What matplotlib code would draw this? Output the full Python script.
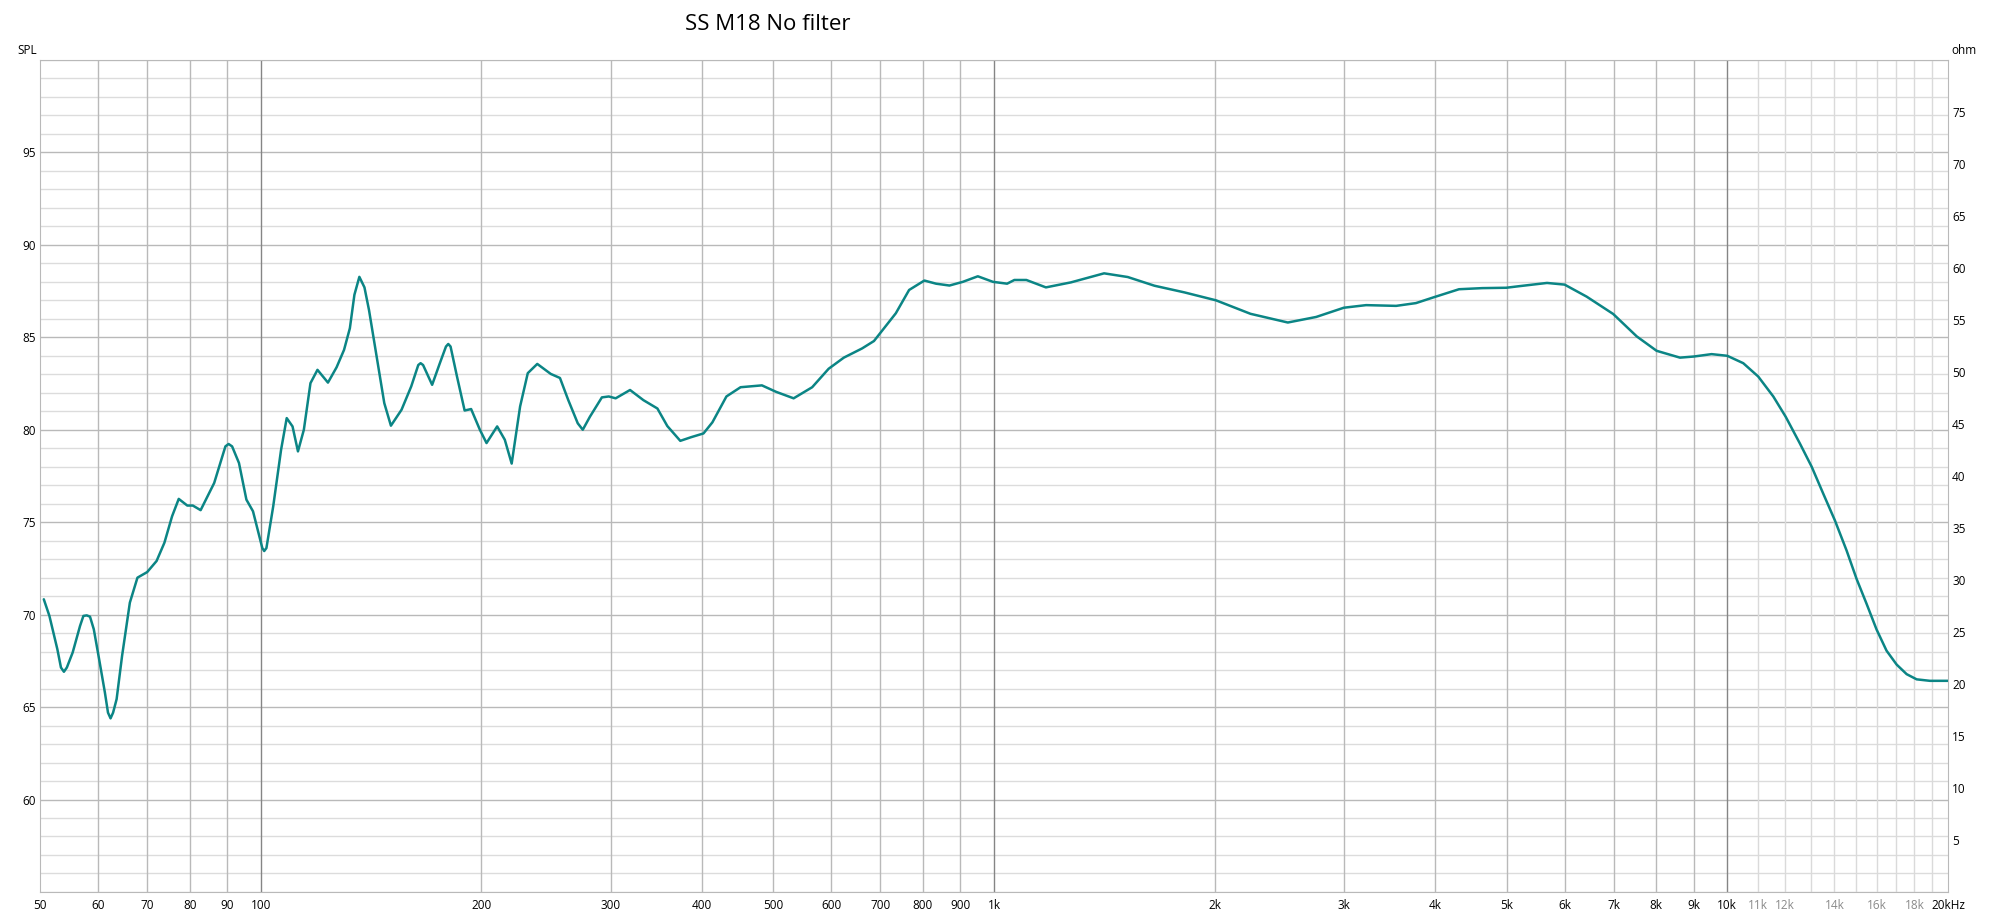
import numpy as np
import matplotlib.pyplot as plt

fontname = 'Open Sans'
plt.rcParams['font.family'] = [fontname, 'DejaVu Sans']

# Frequenzgang (Hz, dB SPL)
freq = [50.6, 51.5, 52.8, 53.4, 53.9, 54.4, 55.4, 56.7, 57.3, 57.9, 58.5, 59.2, 60.2, 61.3,
        61.9, 62.4, 62.9, 63.6, 64.7, 66.3, 67.9, 70.0, 72.1, 73.9, 75.7, 77.3, 79.4, 80.8,
        82.8, 86.4, 89.5, 90.4, 91.4, 93.4, 95.6, 97.6, 100.5, 101.1, 101.8, 104.0, 106.6,
        108.5, 110.5, 112.4, 114.5, 116.9, 119.5, 123.5, 126.9, 129.9, 132.3, 134.2, 136.3,
        138.5, 140.5, 143.9, 147.4, 150.5, 155.6, 160.4, 164.0, 165.2, 166.5, 171.3, 175.5,
        178.9, 180.2, 181.5, 185.2, 189.7, 193.6, 199.0, 203.2, 210.1, 215.2, 219.9, 225.8,
        231.3, 238.3, 248.6, 255.9, 262.7, 270.6, 274.9, 281.1, 291.9, 298.3, 304.8, 318.9,
        332.6, 347.5, 358.5, 373.4, 386.5, 401.6, 413, 431.6, 451.2, 482.5, 504.5, 533, 565,
        595, 624, 661, 686, 711.7, 734.7, 766, 803.6, 833.7, 869.5, 906.8, 950.5, 996.7,
        1042, 1066, 1107, 1177, 1273, 1413, 1522, 1655, 1818, 2008, 2238, 2516, 2750, 3000,
        3217, 3535, 3762, 3982, 4307, 4633, 4996, 5190, 5678, 6000, 6430, 6990, 7525, 8010,
        8620, 9000, 9520, 10000, 10515, 11020, 11555, 12015, 12560, 13035, 13515, 14020,
        14545, 15010, 15490, 15980, 16490, 17020, 17565, 18125, 18895, 20000]
spl = [70.83, 69.93, 68.13, 67.14, 66.91, 67.14, 67.95, 69.39, 69.93, 69.96, 69.89, 69.21,
       67.59, 65.79, 64.7, 64.39, 64.7, 65.43, 67.77, 70.65, 72.0, 72.3, 72.9, 73.89, 75.32,
       76.26, 75.9, 75.9, 75.65, 77.12, 79.1, 79.23, 79.1, 78.2, 76.22, 75.59, 73.6, 73.44,
       73.6, 75.86, 78.92, 80.63, 80.18, 78.83, 80.0, 82.52, 83.24, 82.55, 83.38, 84.32,
       85.49, 87.3, 88.27, 87.7, 86.47, 83.96, 81.44, 80.22, 81.08, 82.34, 83.5, 83.6, 83.5,
       82.43, 83.6, 84.5, 84.64, 84.5, 82.88, 81.04, 81.12, 80.0, 79.28, 80.18, 79.46,
       78.17, 81.26, 83.06, 83.56, 83.02, 82.8, 81.6, 80.35, 80.0, 80.7, 81.75, 81.8, 81.7,
       82.15, 81.6, 81.15, 80.2, 79.4, 79.6, 79.8, 80.4, 81.8, 82.3, 82.4, 82.05, 81.7,
       82.3, 83.3, 83.9, 84.4, 84.8, 85.6, 86.3, 87.56, 88.07, 87.9, 87.8, 88.0, 88.3,
       88.0, 87.9, 88.1, 88.1, 87.7, 87.97, 88.46, 88.26, 87.79, 87.43, 87.0, 86.27, 85.8,
       86.1, 86.6, 86.74, 86.7, 86.85, 87.17, 87.6, 87.66, 87.68, 87.76, 87.94, 87.85,
       87.2, 86.26, 85.05, 84.27, 83.9, 83.96, 84.09, 84.0, 83.6, 82.88, 81.8, 80.7, 79.26,
       78.0, 76.55, 75.1, 73.47, 71.93, 70.58, 69.2, 68.05, 67.3, 66.78, 66.5, 66.42, 66.42]

# Achsenbeschriftungen
x_ticks = [50, 60, 70, 80, 90, 100, 200, 300, 400, 500, 600, 700, 800, 900,
           1000, 2000, 3000, 4000, 5000, 6000, 7000, 8000, 9000, 10000, 20000]
x_labels = ['50', '60', '70', '80', '90', '100', '200', '300', '400', '500', '600', '700',
            '800', '900', '1k', '2k', '3k', '4k', '5k', '6k', '7k', '8k', '9k', '10k', '20kHz']
hi_grid = [11000, 12000, 13000, 14000, 15000, 16000, 17000, 18000, 19000]
hi_ticks = [11000, 12000, 14000, 16000, 18000]
hi_labels = ['11k', '12k', '14k', '16k', '18k']
decades = [100, 1000, 10000]
spl_ticks = [60, 65, 70, 75, 80, 85, 90, 95]
ohm_ticks = [5, 10, 15, 20, 25, 30, 35, 40, 45, 50, 55, 60, 65, 70, 75]

fig = plt.figure(figsize=(20, 9.17), dpi=100)
ax = fig.add_axes([0.02, 0.0273, 0.954, 0.9073])

# Gitter
for f in x_ticks[1:-1]:
    c = '#858585' if f in decades else '#b9b9b9'
    ax.axvline(f, color=c, lw=1.0, zorder=1)
for f in hi_grid:
    ax.axvline(f, color='#dadada', lw=1.0, zorder=1)
ax.yaxis.set_major_locator(plt.FixedLocator(spl_ticks))
ax.yaxis.set_minor_locator(plt.MultipleLocator(1))
ax.grid(which='major', axis='y', color='#b9b9b9', lw=1.0)
ax.grid(which='minor', axis='y', color='#dcdcdc', lw=1.0)
ax.set_axisbelow(True)

ax.semilogx(freq, spl, color='#0b8585', lw=1.8, zorder=3,
            solid_joinstyle='round', solid_capstyle='round')

ax.set_xlim(50, 20000)
ax.set_ylim(55, 100)
ax.set_xticks(x_ticks, x_labels)
ax.set_xticks(hi_ticks, hi_labels, minor=True)
ax.tick_params(axis='x', which='both', length=0, pad=5, labelsize=8.5)
ax.tick_params(axis='x', which='minor', labelcolor='#8a8a8a')
ax.tick_params(axis='y', which='both', length=0, pad=3, labelsize=8.5)
for s in ax.spines.values():
    s.set_color('#b9b9b9')

ax2 = ax.twinx()
ax2.set_ylim(0, 80)
ax2.set_yticks(ohm_ticks)
ax2.tick_params(axis='y', length=0, pad=3, labelsize=8.5)
for s in ax2.spines.values():
    s.set_visible(False)

fig.text(0.0185, 1 - 50 / 917, 'SPL', fontsize=8.5, ha='right', va='center')
fig.text(0.9755, 1 - 50 / 917, 'ohm', fontsize=8.5, ha='left', va='center')
fig.text(0.384, 1 - 24 / 917, 'SS M18 No filter', fontsize=16, ha='center', va='center')

fig.savefig('out.png', dpi=100)
